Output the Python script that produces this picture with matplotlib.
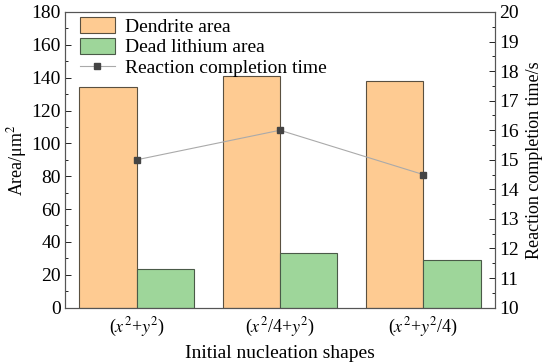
import matplotlib
matplotlib.use("Agg")
import matplotlib.pyplot as plt
import numpy as np
from matplotlib.ticker import MultipleLocator

plt.rcParams['font.family'] = ['Liberation Serif', 'DejaVu Serif']
plt.rcParams['mathtext.fontset'] = 'stix'

categories = [r"($x^2$+$y^2$)", r"($x^2$/4+$y^2$)", r"($x^2$+$y^2$/4)"]
dendrite_area = [134.2, 140.9, 138.0]
dead_lithium_area = [23.5, 33.2, 28.8]
completion_time = [15.0, 16.0, 14.5]

fig = plt.figure(figsize=(5.5, 3.64), dpi=100)
ax = fig.add_axes([65/550, 1-307.6/364, 430/550, 295.6/364])
x = np.arange(len(categories))
w = 0.4
b1 = ax.bar(x - w/2, dendrite_area, w, color='#FECB92', edgecolor='#5a5040', linewidth=0.8, label='Dendrite area')
b2 = ax.bar(x + w/2, dead_lithium_area, w, color='#9ED69A', edgecolor='#4a5a48', linewidth=0.8, label='Dead lithium area')
ax.set_xlim(-0.5, 2.5)
ax.set_ylim(0, 180)
ax.set_xticks(x)
ax.set_xticklabels(categories, fontsize=13)
ax.yaxis.set_major_locator(MultipleLocator(20))
ax.yaxis.set_minor_locator(MultipleLocator(10))
ax.tick_params(axis='y', which='both', direction='in', labelsize=14)
ax.tick_params(axis='y', which='major', length=4, width=0.6, pad=3)
ax.tick_params(axis='y', which='minor', length=2, width=0.6)
ax.tick_params(axis='x', length=0, pad=6)
ax.set_ylabel(r"Area/μm$^2$", fontsize=13, labelpad=2)
ax.set_xlabel("Initial nucleation shapes", fontsize=14, labelpad=4)
for s in ax.spines.values():
    s.set_color('#555555')
    s.set_linewidth(0.8)

ax2 = ax.twinx()
ln, = ax2.plot(x, completion_time, color='#aaaaaa', linewidth=0.8, marker='s',
               markersize=5, markerfacecolor='#444444', markeredgecolor='#444444',
               label='Reaction completion time')
ax2.set_ylim(10, 20)
ax2.yaxis.set_major_locator(MultipleLocator(1))
ax2.yaxis.set_minor_locator(MultipleLocator(0.5))
ax2.tick_params(axis='y', which='both', direction='in', labelsize=14)
ax2.tick_params(axis='y', which='major', length=4, width=0.6, pad=3)
ax2.tick_params(axis='y', which='minor', length=2, width=0.6)
ax2.set_ylabel("Reaction completion time/s", fontsize=13, labelpad=5)
for s in ax2.spines.values():
    s.set_color('#555555')
    s.set_linewidth(0.8)

ax.legend([b1, b2, ln], ['Dendrite area', 'Dead lithium area', 'Reaction completion time'],
          loc='upper left', frameon=False, fontsize=14, handlelength=1.8,
          handleheight=0.9, labelspacing=0.1, borderaxespad=0.0, borderpad=0.1,
          handletextpad=0.5, bbox_to_anchor=(0.03, 0.99))

fig.savefig("out.png", dpi=100)
